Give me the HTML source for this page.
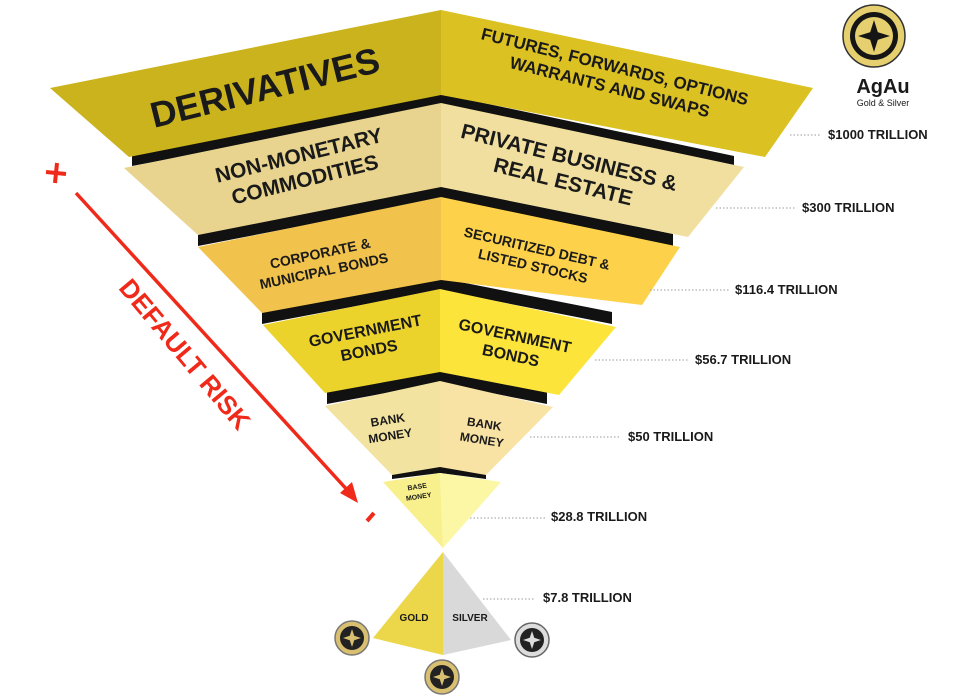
<!DOCTYPE html>
<html><head><meta charset="utf-8"><style>
html,body{margin:0;padding:0;background:#fff}
svg{display:block}
text{font-family:"Liberation Sans",Arial,sans-serif;font-weight:bold;fill:#1a1a1a}
</style></head><body>
<svg width="960" height="697" viewBox="0 0 960 697" xmlns="http://www.w3.org/2000/svg">
<polygon points="132,156 441,94 734,156 734,166 441,108 132,166" fill="#111"/>
<polygon points="198,234 441,186 673,234 673,246 441,199 198,246" fill="#111"/>
<polygon points="262,312 440,278 612,312 612,324 440,290 262,324" fill="#111"/>
<polygon points="327,392 440,370 547,392 547,404 440,383 327,404" fill="#111"/>
<polygon points="392,469 440,461 486,469 486,479 440,473 392,479" fill="#111"/>
<polygon points="50,88 441,10 441,95 129,157" fill="#cbb31e"/>
<polygon points="441,10 813,88 765,157 441,95" fill="#dcc122"/>
<polygon points="124,168 441,103 441,187 198,235" fill="#e8d48e"/>
<polygon points="441,103 744,167 688,237 441,187" fill="#f1df9f"/>
<polygon points="198,247 441,197 441,280 262,313" fill="#f1c24c"/>
<polygon points="441,197 680,247 642,305 441,280" fill="#fdd24a"/>
<polygon points="263,325 440,289 440,372 325,393" fill="#ecd32c"/>
<polygon points="440,289 616,327 559,395 440,372" fill="#fde43a"/>
<polygon points="325,406 440,381 440,467 392,475" fill="#f2e3a0"/>
<polygon points="440,381 553,407 486,475 440,467" fill="#f8e2a4"/>
<polygon points="383,482 440,473 443,548" fill="#f8f08c"/>
<polygon points="440,473 501,482 443,548" fill="#fbf7a4"/>
<polygon points="443,552 373,638 443,655" fill="#ecd64a"/>
<polygon points="443,552 511,640 443,655" fill="#d9d9d9"/>
<g transform="translate(265,88) rotate(-14)"><text x="0" y="12" text-anchor="middle" font-size="36">DERIVATIVES</text></g>
<g transform="translate(612,78) rotate(14)"><text x="0" y="-6" text-anchor="middle" font-size="17">FUTURES, FORWARDS, OPTIONS</text><text x="0" y="15" text-anchor="middle" font-size="17">WARRANTS AND SWAPS</text></g>
<g transform="translate(302,168) rotate(-14)"><text x="0" y="-6" text-anchor="middle" font-size="21">NON-MONETARY</text><text x="0" y="19" text-anchor="middle" font-size="21">COMMODITIES</text></g>
<g transform="translate(566,170) rotate(14)"><text x="0" y="-6" text-anchor="middle" font-size="21">PRIVATE BUSINESS &amp;</text><text x="0" y="19" text-anchor="middle" font-size="21">REAL ESTATE</text></g>
<g transform="translate(322,262) rotate(-12)"><text x="0" y="-4" text-anchor="middle" font-size="14">CORPORATE &amp;</text><text x="0" y="14" text-anchor="middle" font-size="14">MUNICIPAL BONDS</text></g>
<g transform="translate(535,257) rotate(13)"><text x="0" y="-4" text-anchor="middle" font-size="14">SECURITIZED DEBT  &amp;</text><text x="0" y="14" text-anchor="middle" font-size="14">LISTED STOCKS</text></g>
<g transform="translate(367,340) rotate(-11)"><text x="0" y="-4" text-anchor="middle" font-size="16">GOVERNMENT</text><text x="0" y="16" text-anchor="middle" font-size="16">BONDS</text></g>
<g transform="translate(513,345) rotate(12)"><text x="0" y="-4" text-anchor="middle" font-size="16">GOVERNMENT</text><text x="0" y="16" text-anchor="middle" font-size="16">BONDS</text></g>
<g transform="translate(389,428) rotate(-9)"><text x="0" y="-4" text-anchor="middle" font-size="12">BANK</text><text x="0" y="12" text-anchor="middle" font-size="12">MONEY</text></g>
<g transform="translate(483,432) rotate(9)"><text x="0" y="-4" text-anchor="middle" font-size="12">BANK</text><text x="0" y="12" text-anchor="middle" font-size="12">MONEY</text></g>
<g transform="translate(418,492) rotate(-9)"><text x="0" y="-3" text-anchor="middle" font-size="7">BASE</text><text x="0" y="7" text-anchor="middle" font-size="7">MONEY</text></g>
<text x="414" y="621" text-anchor="middle" font-size="10">GOLD</text>
<text x="470" y="621" text-anchor="middle" font-size="10" fill="#333">SILVER</text>
<g stroke="#999" stroke-width="1" stroke-dasharray="1.5,2">
<line x1="790" y1="135" x2="820" y2="135"/>
<line x1="716" y1="208" x2="795" y2="208"/>
<line x1="650" y1="290" x2="730" y2="290"/>
<line x1="595" y1="360" x2="688" y2="360"/>
<line x1="530" y1="437" x2="620" y2="437"/>
<line x1="470" y1="518" x2="545" y2="518"/>
<line x1="483" y1="599" x2="535" y2="599"/>
</g>
<g font-size="13">
<text x="828" y="139">$1000 TRILLION</text>
<text x="802" y="212">$300 TRILLION</text>
<text x="735" y="294">$116.4 TRILLION</text>
<text x="695" y="364">$56.7 TRILLION</text>
<text x="628" y="441">$50 TRILLION</text>
<text x="551" y="521">$28.8 TRILLION</text>
<text x="543" y="602">$7.8 TRILLION</text>
</g>
<g stroke="#f02a1a" fill="#f02a1a">
<line x1="46" y1="172" x2="66" y2="174" stroke-width="4"/>
<line x1="57" y1="163" x2="55" y2="183" stroke-width="4"/>
<line x1="76" y1="193" x2="350" y2="493" stroke-width="3.5"/>
<polygon points="358,503 340,493 352,482" stroke="none"/>
<line x1="367" y1="521" x2="374" y2="513" stroke-width="4"/>
</g>
<g transform="translate(178,360) rotate(50)"><text x="0" y="0" text-anchor="middle" font-size="26" style="fill:#f02a1a">DEFAULT RISK</text></g>
<g>
<circle cx="352" cy="638" r="17" fill="#d8c070" stroke="#777" stroke-width="1.5"/>
<circle cx="352" cy="638" r="12" fill="#222"/>
<path d="M352,629 L355,638 L352,647 L349,638Z M343,638 L352,635 L361,638 L352,641Z" fill="#d8c070"/>
<circle cx="532" cy="640" r="17" fill="#ddd" stroke="#666" stroke-width="1.5"/>
<circle cx="532" cy="640" r="12" fill="#222"/>
<path d="M532,631 L535,640 L532,649 L529,640Z M523,640 L532,637 L541,640 L532,643Z" fill="#ddd"/>
<circle cx="442" cy="677" r="17" fill="#d8c070" stroke="#777" stroke-width="1.5"/>
<circle cx="442" cy="677" r="12" fill="#222"/>
<path d="M442,668 L445,677 L442,686 L439,677Z M433,677 L442,674 L451,677 L442,680Z" fill="#d8c070"/>
</g>
<circle cx="874" cy="36" r="31" fill="#e6cf6e" stroke="#333" stroke-width="1.5"/>
<circle cx="874" cy="36" r="24" fill="#151515"/>
<circle cx="874" cy="36" r="19" fill="#e6cf6e"/>
<path d="M874,20 L879,36 L874,52 L869,36Z M858,36 L874,31 L890,36 L874,41Z" fill="#151515"/>
<text x="883" y="93" text-anchor="middle" font-size="20">AgAu</text>
<text x="883" y="106" text-anchor="middle" font-size="9" style="font-weight:normal">Gold &amp; Silver</text>
</svg>
</body></html>
